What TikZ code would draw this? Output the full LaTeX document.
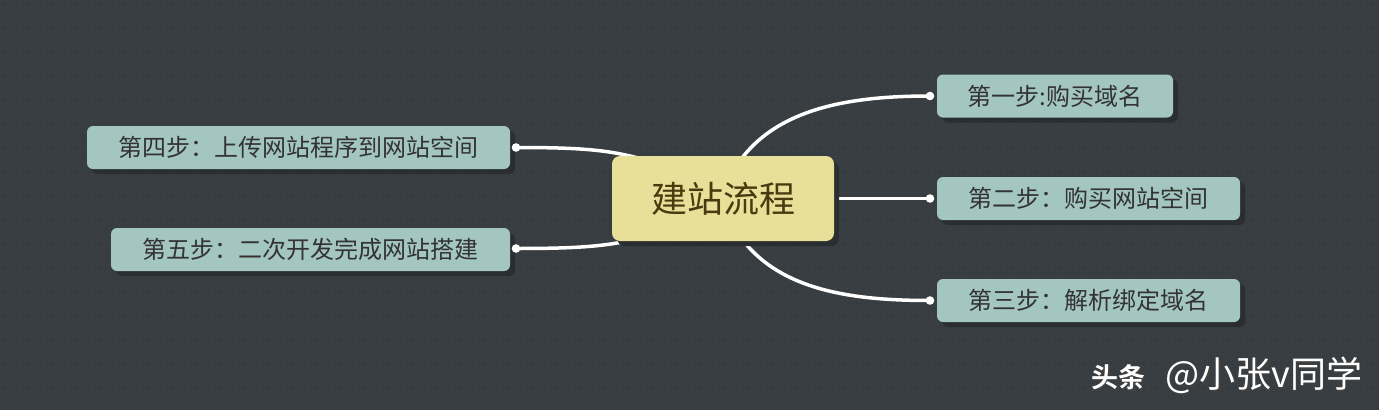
\documentclass[tikz,border=0pt]{standalone}
\usepackage{fontspec}
\setmainfont{Noto Sans CJK SC}
\newfontfamily\cjkb{Noto Sans CJK SC}[BoldFont={* Bold}]
\usetikzlibrary{patterns.meta,shadows}
\definecolor{bgc}{HTML}{383D41}
\definecolor{dotc}{HTML}{43484C}
\definecolor{boxc}{HTML}{A3C6C0}
\definecolor{cenc}{HTML}{E8DF98}
\definecolor{shc}{HTML}{2A2E31}
\definecolor{txc}{HTML}{333333}
\definecolor{cntx}{HTML}{4A3A10}
\tikzdeclarepattern{name=bgdots,type=colored,bounding box={(0pt,0pt) and (6pt,6pt)},tile size={(6pt,6pt)},
  code={\fill[dotc] (3pt,3pt) circle (0.8pt);}}
\tikzset{
  stepbox/.style={draw=none,fill=boxc,rounded corners=6pt,minimum height=43pt,inner sep=0pt,
    text=txc,font=\fontsize{24pt}{26pt}\selectfont,
    drop shadow={shadow xshift=5pt,shadow yshift=-5pt,fill=shc,opacity=1}},
  centerbox/.style={draw=none,fill=cenc,rounded corners=8pt,minimum width=222pt,minimum height=85pt,inner sep=0pt,
    text=cntx,font=\fontsize{36pt}{38pt}\selectfont,
    drop shadow={shadow xshift=5pt,shadow yshift=-5pt,fill=shc,opacity=1}},
  link/.style={draw=white,line width=3.5pt},
  enddot/.style={fill=white,draw=none},
  wmark/.style={anchor=base east,inner sep=0pt,font=\cjkb}
}
\newcommand{\wmtext}{{\bfseries\fontsize{27pt}{29pt}\selectfont 头条}\hspace{20pt}{\fontsize{36pt}{38pt}\selectfont @小张v同学}}
\begin{document}
\begin{tikzpicture}[x=1pt,y=-1pt]
\useasboundingbox (0,0) rectangle (1379,410);
\fill[bgc] (0,0) rectangle (1379,410);
\fill[pattern=bgdots] (0,0) rectangle (1379,410);
% step nodes
\node[stepbox,minimum width=236pt] (n1) at (1055,96) {第一步:购买域名};
\node[stepbox,minimum width=303pt] (n2) at (1088.5,198.5) {第二步：购买网站空间};
\node[stepbox,minimum width=303pt] (n3) at (1088.5,300.5) {第三步：解析绑定域名};
\node[stepbox,minimum width=423pt] (n4) at (298.5,147.5) {第四步：上传网站程序到网站空间};
\node[stepbox,minimum width=399pt] (n5) at (310.5,249.5) {第五步：二次开发完成网站搭建};
% anchor coordinates
\coordinate (e1) at (930,96);
\coordinate (e2) at (930,198.5);
\coordinate (e3) at (930,300.5);
\coordinate (e4) at (516,147.5);
\coordinate (e5) at (516,248.5);
\coordinate (s1) at (737,165);
\coordinate (s2) at (825,198.5);
\coordinate (s3) at (737,232);
\coordinate (s4) at (655,163);
\coordinate (s5) at (655,234);
% connectors
\draw[link] (s1) .. controls (775,108) and (850,96) .. (e1);
\draw[link] (s2) -- (e2);
\draw[link] (s3) .. controls (775,290) and (850,300.5) .. (e3);
\draw[link] (e4) .. controls (585,147.5) and (615,150) .. (s4);
\draw[link] (e5) .. controls (585,248.5) and (615,246) .. (s5);
\foreach \p in {e1,e2,e3,e4,e5} \fill[enddot] (\p) circle (4.3pt);
% center node
\node[centerbox] (c) at (723,198.5) {建站流程};
% watermark
\node[wmark,text=black!75] at (1364,389) {\wmtext};
\node[wmark,text=white] (wm) at (1362.5,387.5) {\wmtext};
\end{tikzpicture}
\end{document}
